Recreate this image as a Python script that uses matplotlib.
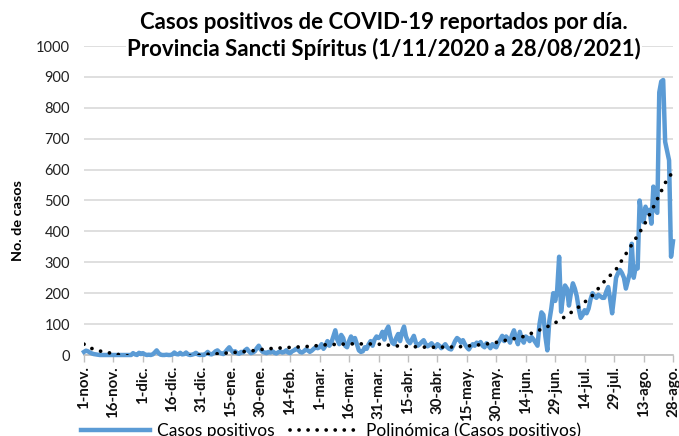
import numpy as np
import matplotlib
matplotlib.use("Agg")
import matplotlib.pyplot as plt
from matplotlib.lines import Line2D

# ---- data (daily cases, 1 Nov 2020 .. 28 Aug 2021) ----
nov = [10, 14, 12, 8, 5, 3, 2, 1, 0, 0, 0, 0, 0, 0, 0, 0, 0, 0, 0, 0,
       0, 0, 0, 0, 0, 6, 2, 0, 7, 3]
dic = [6, 2, 0, 1, 0, 2, 8, 15, 6, 1, 0, 0, 1, 0, 0, 2, 8, 3, 2, 7,
       2, 3, 8, 2, 0, 1, 3, 7, 2, 0, 1]
ene = [0, 4, 10, 3, 2, 6, 12, 15, 8, 5, 3, 10, 18, 25, 15, 8, 12, 6, 4, 10,
       8, 15, 20, 12, 6, 8, 12, 22, 30, 18, 10]
feb = [8, 6, 10, 8, 12, 7, 5, 9, 12, 8, 10, 15, 8, 6, 12, 15, 20, 18, 10, 8,
       12, 18, 15, 10, 14, 20, 25, 22]
mar = [25, 35, 20, 30, 45, 30, 40, 60, 80, 50, 35, 65, 55, 30, 25, 45, 60, 40, 55, 35,
       15, 10, 12, 25, 20, 35, 45, 30, 50, 60, 55]
abr = [60, 75, 50, 80, 92, 60, 40, 35, 55, 68, 45, 75, 92, 60, 45, 38, 50, 62, 40, 30,
       35, 42, 48, 35, 28, 32, 38, 30, 25, 35]
may = [30, 22, 28, 35, 25, 20, 18, 30, 45, 55, 50, 40, 48, 35, 25, 18, 28, 35, 30, 40,
       35, 42, 30, 25, 38, 30, 22, 35, 28, 25, 40]
jun = [50, 62, 45, 60, 52, 40, 65, 80, 55, 35, 75, 50, 40, 60, 55, 45, 58, 50, 40, 30,
       100, 138, 130, 60, 15, 110, 150, 200, 175, 210]
jul = [318, 140, 190, 225, 215, 160, 200, 232, 215, 190, 150, 120, 130, 145, 135, 150, 180, 200, 190, 185,
       195, 190, 185, 185, 205, 220, 180, 135, 190, 250, 265]
ago = [275, 265, 250, 215, 240, 265, 360, 250, 285, 280, 500, 450, 430, 480, 460, 470, 425, 545, 470, 460,
       850, 885, 890, 690, 660, 630, 318, 368]

casos = np.array(nov + dic + ene + feb + mar + abr + may + jun + jul + ago, dtype=float)
dias = np.arange(len(casos))

# polynomial trendline (day index, value)
trend_dias = [0, 4, 8, 12, 16, 35, 55, 62, 68, 76, 85, 93, 106, 115, 123, 135, 145, 150,
              160, 175, 190, 200, 208, 215, 223, 231, 239, 246, 253, 259, 265, 271, 278,
              285, 291, 297, 300]
trend_vals = [35, 21, 13, 8, 3, -15, -3, 2, 4, 8, 13, 20, 25, 28, 33, 36, 36, 35,
              29, 25, 26, 32, 38, 48, 58, 78, 100, 128, 160, 193, 238, 277, 347,
              417, 491, 569, 592]

tick_labels = ["1-nov.", "16-nov.", "1-dic.", "16-dic.", "31-dic.", "15-ene.", "30-ene.",
               "14-feb.", "1-mar.", "16-mar.", "31-mar.", "15-abr.", "30-abr.", "15-may.",
               "30-may.", "14-jun.", "29-jun.", "14-jul.", "29-jul.", "13-ago.", "28-ago."]
tick_step = 15

title = "Casos positivos de COVID-19 reportados por día.\nProvincia Sancti Spíritus (1/11/2020 a 28/08/2021)"

# ---- plot ----
plt.rcParams['font.family'] = ['Lato', 'DejaVu Sans']
fig = plt.figure(figsize=(6.79, 4.36), dpi=100)
ax = fig.add_axes([84/679, 81/436, (673-84)/679, (355-46)/436])

blue = "#5B9BD5"
dots = (0, (0.01, 2.4))
ax.plot(dias, casos, color=blue, lw=3.2, solid_joinstyle='round', zorder=3, clip_on=False)
ax.plot(trend_dias, trend_vals, color="black", lw=2.7, linestyle=dots,
        dash_capstyle='round', zorder=4)

ax.set_xlim(0, len(casos) - 1)
ax.set_ylim(0, 1000)
ax.set_yticks(np.arange(0, 1001, 100))
ax.set_xticks(np.arange(0, len(casos), tick_step))
ax.set_xticklabels(tick_labels, rotation=90, fontsize=10.8, fontweight='bold')
ax.tick_params(axis='y', length=0, pad=10, labelsize=10.5, labelcolor="#222222")
ax.tick_params(axis='x', length=5, width=1, color="#BFBFBF", pad=3, labelcolor="#111111")

ax.grid(axis='y', color="#D9D9D9", lw=1.2)
ax.set_axisbelow(True)
for s in ["top", "right", "left"]:
    ax.spines[s].set_visible(False)
ax.spines["bottom"].set_color("#BFBFBF")
ax.spines["bottom"].set_linewidth(1.2)

fig.text(18/679, (436-221)/436, "No. de casos", rotation=90, ha='center', va='center',
         fontsize=10.4, fontweight='bold')

fig.text(384/679, (436-36)/436, title, ha='center', va='center', fontsize=16,
         fontweight='bold', linespacing=1.22,
         bbox=dict(facecolor='white', edgecolor='none', pad=1))

handles = [Line2D([], [], color=blue, lw=3.2),
           Line2D([], [], color="black", lw=2.7, linestyle=dots, dash_capstyle='round')]
fig.legend(handles, ["Casos positivos", "Polinómica (Casos positivos)"],
           loc='center', bbox_to_anchor=(331/679, 5/436), ncol=2, frameon=False,
           fontsize=12.5, handlelength=4.0, handletextpad=0.4, columnspacing=0.85)

fig.savefig("out.png", dpi=100)
